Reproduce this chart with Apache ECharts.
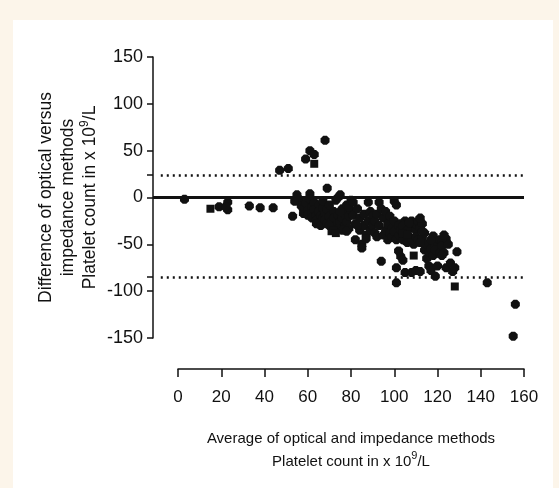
<!DOCTYPE html>
<html>
<head>
<meta charset="utf-8">
<script src="https://cdn.jsdelivr.net/npm/echarts@6/dist/echarts.min.js"></script>
<style>
  html, body { margin: 0; padding: 0; }
  .page { position: relative; width: 559px; height: 488px; background: #fcf5ea; }
  .panel { position: absolute; left: 13px; top: 20px; width: 540px; height: 468px; background: #ffffff; }
  #chart { position: absolute; left: 0; top: 0; width: 559px; height: 488px; }
</style>
</head>
<body>
<div class="page">
  <div class="panel"></div>
  <div id="chart"></div>
</div>
<script>
// x ticks and y ticks
const xTicks = [0, 20, 40, 60, 80, 100, 120, 140, 160];
const yTicks = [-150, -100, -50, 0, 50, 100, 150];
// limits of agreement (dotted) and the zero line
const upperLimit = 24;
const lowerLimit = -85;
const meanLine = 0;

// round-ish markers
const blobPoints = [
  [3, -2], [19, -10], [23, -5], [23, -13], [22, -10], [33, -9], [38, -11], [44, -11],
  [47, 29], [51, 31], [59, 41], [61, 50], [63, 46], [68, 61],
  [69, 10], [53, -20], [54, -4], [55, 3], [56, -2],
  [57, -9], [58, -12], [58, -17], [59, -6], [60, -14], [60, -19], [61, 4], [61, -2],
  [62, -10], [62, -16], [62, -22], [63, -5], [63, -13], [64, -19], [64, -24], [65, -8],
  [65, -15], [66, -20], [66, -26], [67, -11], [67, -4], [64, -28], [66, -30], [67, -22],
  [68, -18], [68, -24], [69, -13], [69, -28], [70, -20], [70, -8], [71, -25], [71, -31],
  [72, -15], [72, -22], [73, -30], [73, -3], [74, 0], [74, -19], [75, 3], [75, -26],
  [76, -12], [76, -22], [77, -31], [77, -17], [78, -8], [78, -26], [79, -20], [79, -33],
  [80, -14], [80, -3], [70, -30], [74, -33], [76, -35], [78, -36], [75, -15], [79, -10],
  [81, -19], [82, -28], [82, -45], [83, -12], [84, -22], [84, -35], [85, -50], [85, -54],
  [86, -30], [86, -18], [87, -40], [87, -44], [88, -5], [88, -25], [89, -35], [89, -15],
  [90, -20], [90, -30], [81, -5], [83, -30],
  [91, -25], [91, -38], [92, -18], [92, -42], [93, -5], [93, -30], [94, -12], [94, -68],
  [95, -22], [95, -40], [96, -35], [96, -15], [97, -28], [97, -45], [98, -20], [98, -38],
  [99, -32], [99, -42], [100, -4], [100, -25], [100, -36],
  [101, -8], [101, -45], [101, -75], [101, -91], [102, -30], [102, -40], [102, -57],
  [103, -63], [103, -35], [104, -45], [104, -67], [105, -25], [105, -38], [105, -80],
  [106, -28], [106, -48], [107, -33], [107, -42], [108, -80], [108, -25], [109, -30],
  [109, -50], [110, -35], [110, -28], [110, -78], [103, -28], [104, -30], [106, -35],
  [107, -27], [108, -45], [110, -42],
  [111, -45], [111, -25], [112, -79], [112, -32], [113, -43], [113, -28], [114, -56],
  [114, -38], [115, -65], [115, -50], [116, -73], [116, -58], [117, -55], [117, -78],
  [118, -41], [118, -62], [119, -84], [119, -50], [120, -73], [120, -47], [112, -22],
  [112, -48], [113, -36], [117, -45], [119, -56],
  [121, -59], [121, -45], [122, -48], [122, -52], [123, -59], [124, -44], [124, -75],
  [125, -50], [126, -70], [127, -79], [128, -75], [129, -58], [122, -62], [123, -40],
  [143, -91], [156, -114], [155, -148]
];
// square markers
const squarePoints = [
  [15, -12], [63, 36], [54, -3], [71, -36], [72, -35], [73, -38], [104, -38],
  [106, -40], [109, -62], [128, -95]
];

const xMin = 0;
const xMax = 160;
const xExtMin = -11.6; // the y axis sits left of x = 0

const sans = `"Liberation Sans", Arial, Helvetica, sans-serif`;
const ink = `#111111`;

const chartDom = document.getElementById(`chart`);
const myChart = echarts.init(chartDom, null, { renderer: `canvas` });

let option;
option = {
  backgroundColor: `transparent`,
  animation: false,
  textStyle: { fontFamily: sans, color: ink },
  grid: [
    { left: 153, right: 35, top: 57, bottom: 150 },
    { left: 178, right: 35, top: 57, bottom: 150 }
  ],
  xAxis: [
    {
      gridIndex: 0,
      type: `value`,
      min: xExtMin,
      max: xMax,
      show: false
    },
    {
      gridIndex: 1,
      type: `value`,
      min: xMin,
      max: xMax,
      interval: 20,
      position: `bottom`,
      offset: 31,
      splitLine: { show: false },
      axisLine: { show: true, onZero: false, lineStyle: { color: ink, width: 1.5 } },
      axisTick: { show: true, length: 8, lineStyle: { color: ink, width: 1.5 } },
      axisLabel: {
        margin: 20,
        fontSize: 17,
        fontFamily: sans,
        color: ink,
        customValues: xTicks
      },
      name: `Average of optical and impedance methods\nPlatelet count in x 10{sup|9}/L`,
      nameLocation: `middle`,
      nameGap: 58,
      nameMoveOverlap: false,
      nameTextStyle: {
        fontSize: 15,
        fontFamily: sans,
        color: ink,
        lineHeight: 23,
        align: `center`,
        rich: {
          sup: { fontSize: 11, fontFamily: sans, color: ink, verticalAlign: `top`, lineHeight: 23 }
        }
      }
    }
  ],
  yAxis: [
    {
      gridIndex: 0,
      type: `value`,
      min: -150,
      max: 150,
      interval: 50,
      splitLine: { show: false },
      axisLine: { show: true, onZero: false, lineStyle: { color: ink, width: 1.5 } },
      axisTick: {
        show: true,
        length: 6,
        lineStyle: { color: ink, width: 1.5 },
        customValues: [-150, -100, lowerLimit, -50, 0, upperLimit, 50, 100, 150]
      },
      axisLabel: {
        margin: 10,
        fontSize: 18,
        fontFamily: sans,
        color: ink,
        customValues: yTicks
      },
      name: `Difference of optical versus\nimpedance methods\nPlatelet count in x 10{sup|9}/L`,
      nameLocation: `middle`,
      nameGap: 52,
      nameRotate: 90,
      nameMoveOverlap: false,
      nameTextStyle: {
        fontSize: 17.5,
        fontFamily: sans,
        color: ink,
        lineHeight: 22,
        align: `center`,
        rich: {
          sup: { fontSize: 12, fontFamily: sans, color: ink, verticalAlign: `top`, lineHeight: 22 }
        }
      }
    },
    {
      gridIndex: 1,
      type: `value`,
      min: -150,
      max: 150,
      show: false
    }
  ],
  series: [
    {
      // reference lines
      type: `scatter`,
      xAxisIndex: 0,
      yAxisIndex: 0,
      data: [],
      silent: true,
      markLine: {
        silent: true,
        symbol: [`none`, `none`],
        label: { show: false },
        animation: false,
        data: [
          { yAxis: meanLine, lineStyle: { color: ink, width: 3, type: `solid` } },
          [
            { coord: [-8, upperLimit], lineStyle: { color: ink, width: 2.5, type: [2, 4] } },
            { coord: [xMax, upperLimit] }
          ],
          [
            { coord: [-8, lowerLimit], lineStyle: { color: ink, width: 2.5, type: [2, 4] } },
            { coord: [xMax, lowerLimit] }
          ]
        ]
      }
    },
    {
      name: `blob`,
      type: `scatter`,
      xAxisIndex: 1,
      yAxisIndex: 1,
      symbol: `path://M3,0 L7,0 L10,3 L10,7 L7,10 L3,10 L0,7 L0,3 Z`,
      symbolSize: 9,
      itemStyle: { color: ink, opacity: 1 },
      data: blobPoints
    },
    {
      name: `square`,
      type: `scatter`,
      xAxisIndex: 1,
      yAxisIndex: 1,
      symbol: `rect`,
      symbolSize: 8,
      itemStyle: { color: ink, opacity: 1 },
      data: squarePoints
    }
  ]
};
option && myChart.setOption(option);
</script>
</body>
</html>
